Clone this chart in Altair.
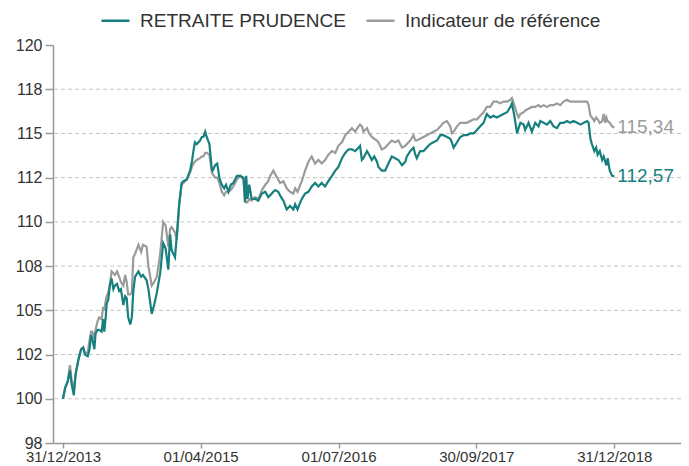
import altair as alt
import pandas as pd

NAME_A = "RETRAITE PRUDENCE"
NAME_B = "Indicateur de référence"
TEAL = "#17807f"
GREY = "#9b9b9b"
FONT = "Liberation Sans"

dates = [
    "2013-12-31", "2014-01-07", "2014-01-16", "2014-01-23", "2014-01-29", "2014-02-05", "2014-02-11", "2014-02-20",
    "2014-03-01", "2014-03-08", "2014-03-14", "2014-03-23", "2014-03-29", "2014-04-03", "2014-04-07", "2014-04-14",
    "2014-04-18", "2014-04-25", "2014-04-30", "2014-05-08", "2014-05-13", "2014-05-17", "2014-05-22", "2014-05-25",
    "2014-05-30", "2014-06-05", "2014-06-10", "2014-06-16", "2014-06-21", "2014-06-28", "2014-07-05", "2014-07-11",
    "2014-07-19", "2014-07-25", "2014-07-30", "2014-08-04", "2014-08-11", "2014-08-16", "2014-08-21", "2014-08-27",
    "2014-09-07", "2014-09-16", "2014-09-22", "2014-10-04", "2014-10-10", "2014-10-21", "2014-10-29", "2014-11-07",
    "2014-11-18", "2014-11-28", "2014-12-06", "2014-12-15", "2014-12-21", "2014-12-26", "2015-01-06", "2015-01-12",
    "2015-01-20", "2015-01-28", "2015-02-03", "2015-02-14", "2015-02-25", "2015-03-03", "2015-03-08", "2015-03-13",
    "2015-03-19", "2015-03-30", "2015-04-05", "2015-04-10", "2015-04-16", "2015-04-21", "2015-04-30", "2015-05-08",
    "2015-05-11", "2015-05-19", "2015-05-26", "2015-06-02", "2015-06-10", "2015-06-18", "2015-06-24", "2015-07-02",
    "2015-07-10", "2015-07-18", "2015-07-30", "2015-08-10", "2015-08-21", "2015-08-26", "2015-08-30", "2015-09-03",
    "2015-09-09", "2015-09-17", "2015-09-28", "2015-10-09", "2015-10-21", "2015-11-01", "2015-11-11", "2015-11-17",
    "2015-11-28", "2015-12-04", "2015-12-14", "2015-12-20", "2015-12-31", "2016-01-11", "2016-01-22", "2016-02-02",
    "2016-02-08", "2016-02-16", "2016-02-25", "2016-03-01", "2016-03-12", "2016-03-23", "2016-04-03", "2016-04-14",
    "2016-04-25", "2016-05-06", "2016-05-17", "2016-05-28", "2016-06-09", "2016-06-20", "2016-06-30", "2016-07-12",
    "2016-07-23", "2016-08-03", "2016-08-14", "2016-08-25", "2016-09-05", "2016-09-10", "2016-09-16", "2016-09-21",
    "2016-10-03", "2016-10-10", "2016-10-19", "2016-10-27", "2016-11-05", "2016-11-10", "2016-11-21", "2016-12-02",
    "2016-12-13", "2016-12-24", "2017-01-04", "2017-01-15", "2017-01-27", "2017-02-07", "2017-02-12", "2017-02-23",
    "2017-03-06", "2017-03-12", "2017-03-17", "2017-03-28", "2017-04-08", "2017-04-19", "2017-04-30", "2017-05-11",
    "2017-05-23", "2017-06-03", "2017-06-13", "2017-06-25", "2017-07-06", "2017-07-11", "2017-07-17", "2017-07-28",
    "2017-08-08", "2017-08-19", "2017-08-30", "2017-09-10", "2017-09-21", "2017-10-02", "2017-10-13", "2017-10-24",
    "2017-11-04", "2017-11-15", "2017-11-26", "2017-12-07", "2017-12-18", "2017-12-29", "2018-01-10", "2018-01-21",
    "2018-01-26", "2018-02-03", "2018-02-12", "2018-02-17", "2018-02-23", "2018-03-06", "2018-03-11", "2018-03-22",
    "2018-04-02", "2018-04-13", "2018-04-24", "2018-04-30", "2018-05-11", "2018-05-22", "2018-06-02", "2018-06-13",
    "2018-06-24", "2018-07-05", "2018-07-16", "2018-07-28", "2018-08-07", "2018-08-18", "2018-08-30", "2018-09-10",
    "2018-09-21", "2018-10-02", "2018-10-07", "2018-10-13", "2018-10-18", "2018-10-26", "2018-11-01", "2018-11-06",
    "2018-11-13", "2018-11-21", "2018-11-26", "2018-12-01", "2018-12-05", "2018-12-09", "2018-12-16", "2018-12-24",
    "2018-12-31",
]

prudence = [
    100.0, 100.6, 101.0, 101.6, 100.8, 100.2, 101.4, 102.2,
    102.8, 102.9, 102.5, 102.4, 102.8, 103.6, 103.4, 102.8,
    103.7, 103.9, 103.9, 103.8, 104.5, 103.8, 104.7, 105.4,
    105.6, 106.5, 106.8, 106.2, 106.4, 106.5, 106.1, 106.2,
    105.3, 105.8, 105.7, 104.6, 104.2, 104.6, 106.1, 106.9,
    107.2, 106.9, 107.0, 106.7, 106.2, 104.8, 105.3, 106.0,
    107.1, 108.8, 108.5, 107.3, 109.3, 108.4, 108.0, 109.2,
    111.0, 112.2, 112.3, 112.4, 112.9, 113.4, 114.0, 114.5,
    114.4, 114.6, 114.8, 114.8, 115.1, 114.8, 114.4, 113.0,
    112.9, 113.2, 113.3, 112.5, 112.1, 111.9, 112.1, 111.7,
    112.1, 112.2, 112.6, 112.6, 112.5, 111.1, 112.6, 111.3,
    112.1, 111.3, 111.3, 111.2, 111.6, 111.7, 111.4, 111.5,
    111.7, 111.8, 111.7, 111.5, 111.2, 110.7, 110.9, 110.7,
    111.0, 110.7, 111.1, 111.3, 111.6, 111.7, 112.0, 112.2,
    112.0, 112.2, 112.0, 112.3, 112.6, 112.9, 113.1, 113.6,
    113.9, 114.1, 114.1, 114.0, 114.2, 114.3, 113.5, 113.6,
    114.0, 113.8, 113.5, 113.7, 113.4, 113.1, 112.9, 112.9,
    113.3, 113.7, 113.6, 113.5, 113.2, 113.4, 113.7, 114.0,
    114.2, 113.8, 113.6, 114.0, 114.0, 114.2, 114.4, 114.5,
    114.6, 114.9, 114.9, 114.8, 114.7, 114.5, 114.2, 114.5,
    114.8, 114.9, 114.9, 115.0, 115.0, 115.2, 115.4, 115.6,
    116.1, 115.9, 116.0, 115.9, 116.0, 116.1, 116.2, 116.5,
    116.7, 116.0, 115.0, 115.3, 115.6, 115.5, 115.2, 115.6,
    115.1, 115.6, 115.4, 115.7, 115.6, 115.5, 115.7, 115.4,
    115.3, 115.6, 115.6, 115.7, 115.6, 115.7, 115.6, 115.5,
    115.6, 115.7, 115.6, 114.7, 114.4, 114.0, 114.2, 113.8,
    114.0, 113.5, 113.7, 113.4, 113.2, 113.6, 112.9, 112.6,
    112.57,
]

reference = [
    100.0, 100.6, 101.0, 101.9, 101.0, 100.5, 101.4, 102.2,
    102.8, 102.9, 102.6, 102.6, 103.3, 103.8, 103.8, 103.4,
    103.9, 104.4, 104.6, 104.5, 105.2, 105.0, 105.6, 105.8,
    106.0, 106.5, 107.2, 107.1, 107.0, 107.2, 106.9, 106.6,
    106.4, 107.0, 106.6, 105.9, 105.9, 106.0, 108.0, 108.2,
    108.7, 108.3, 108.7, 108.6, 107.5, 106.4, 106.6, 106.9,
    108.2, 110.0, 109.8, 108.6, 109.6, 109.7, 109.4, 109.0,
    111.0, 112.1, 112.2, 112.4, 112.8, 113.1, 113.3, 113.4,
    113.5, 113.6, 113.7, 113.7, 113.9, 113.9, 113.8, 112.8,
    112.7, 112.5, 112.5, 112.2, 111.7, 111.5, 111.7, 111.7,
    111.8, 112.0, 112.4, 112.6, 112.4, 111.2, 111.1, 111.1,
    111.3, 111.2, 111.4, 111.3, 111.8, 112.1, 112.3, 112.6,
    112.9, 112.7, 112.4, 112.2, 112.3, 111.9, 111.7, 111.6,
    111.9, 111.7, 112.1, 112.3, 112.9, 113.4, 113.7, 113.3,
    113.5, 113.3, 113.5, 113.8, 114.0, 113.9, 114.3, 114.5,
    114.9, 115.1, 115.3, 115.1, 115.4, 115.5, 115.4, 115.1,
    115.3, 115.0, 114.8, 114.7, 114.6, 114.5, 114.1, 114.2,
    114.4, 114.6, 114.5, 114.6, 114.2, 114.3, 114.4, 114.6,
    114.9, 114.6, 114.6, 114.7, 114.8, 114.9, 115.0, 115.1,
    115.2, 115.4, 115.6, 115.7, 115.4, 115.0, 115.1, 115.4,
    115.6, 115.6, 115.6, 115.7, 115.8, 115.8, 116.0, 116.2,
    116.5, 116.5, 116.8, 116.8, 116.7, 116.8, 116.8, 116.9,
    117.0, 116.6, 116.1, 115.9, 116.1, 116.2, 116.3, 116.4,
    116.5, 116.5, 116.6, 116.5, 116.6, 116.5, 116.6, 116.6,
    116.7, 116.6, 116.8, 116.9, 116.8, 116.8, 116.8, 116.8,
    116.8, 116.8, 116.6, 116.0, 115.9, 115.7, 115.9, 115.8,
    115.6, 115.7, 116.1, 115.6, 115.9, 115.7, 115.6, 115.4,
    115.34,
]

y_ticks = [97.5, 100, 102.5, 105, 107.5, 110, 112.5, 115, 117.5, 120]
grid_values = [100, 102.5, 105, 107.5, 110, 112.5, 115, 117.5]
x_tick_dates = [(2013, 12, 31), (2015, 4, 1), (2016, 7, 1), (2017, 9, 30), (2018, 12, 31)]
x_domain = [(2013, 11, 28), (2019, 8, 9)]

df = pd.DataFrame({"date": pd.to_datetime(dates), NAME_A: prudence, NAME_B: reference})
long = df.melt("date", var_name="serie", value_name="valeur")
last = long[long["date"] == long["date"].max()].copy()
last["label"] = last["valeur"].map(lambda v: f"{v:.2f}".replace(".", ","))

def dt(t):
    return alt.DateTime(year=t[0], month=t[1], date=t[2])

x_scale = alt.Scale(domain=[dt(x_domain[0]), dt(x_domain[1])])
y_scale = alt.Scale(domain=[97.5, 120], nice=False, zero=False)
color_scale = alt.Scale(domain=[NAME_A, NAME_B], range=[TEAL, GREY])

label_expr = ("(datum.value % 5 == 2.5) ? "
              "((floor(datum.value) % 2 == 0) ? floor(datum.value) : ceil(datum.value)) + '' "
              ": datum.value + ''")

x_axis = alt.Axis(values=[dt(t) for t in x_tick_dates], format="%d/%m/%Y",
                  grid=False, tickSize=5, labelPadding=1, labelFontSize=15,
                  labelOverlap=False, labelFlush=False)
y_axis = alt.Axis(values=y_ticks, labelExpr=label_expr, grid=False,
                  tickSize=8, labelPadding=3, labelFontSize=16)

x_enc = alt.X("date:T", scale=x_scale, title=None, axis=x_axis)
y_enc = alt.Y("valeur:Q", scale=y_scale, title=None, axis=y_axis)

grid = alt.Chart(pd.DataFrame({"valeur": grid_values})).mark_rule(
    color="#c6c6c6", strokeDash=[4, 3], strokeWidth=1
).encode(y=y_enc)

color_enc = alt.Color("serie:N", scale=color_scale, title=None,
                      legend=alt.Legend(orient="none", legendX=47, legendY=-40, direction="horizontal",
                                        symbolType="stroke", symbolSize=784, symbolStrokeWidth=2.5,
                                        labelFontSize=19, labelOffset=9, columnPadding=15,
                                        labelColor="#333333", labelFont=FONT, padding=0,
                                        labelLimit=400))

line_b = alt.Chart(long).transform_filter(alt.datum.serie == NAME_B).mark_line(
    strokeWidth=2.2, interpolate="linear"
).encode(x=x_enc, y=y_enc, color=color_enc)
line_a = alt.Chart(long).transform_filter(alt.datum.serie == NAME_A).mark_line(
    strokeWidth=2.2, interpolate="linear"
).encode(x=x_enc, y=y_enc, color=color_enc)

labels = alt.Chart(last).mark_text(
    align="left", baseline="middle", dx=3, fontSize=19, font=FONT
).encode(x=x_enc, y=y_enc,
         text="label:N", color=alt.Color("serie:N", scale=color_scale, legend=None))

chart = alt.layer(grid, line_b, line_a, labels).properties(
    width=628, height=398,
    autosize=alt.AutoSizeParams(type="none"),
    padding={"left": 45, "top": 37, "right": 0, "bottom": 21},
).configure_view(stroke=None).configure_axis(
    labelFont=FONT, labelColor="#333333", domainColor="#999999", domainWidth=1.5,
    tickColor="#999999", tickWidth=1.5,
).configure_legend(labelFont=FONT)

chart.save("out.html", embed_options={"renderer": "svg", "actions": False})
